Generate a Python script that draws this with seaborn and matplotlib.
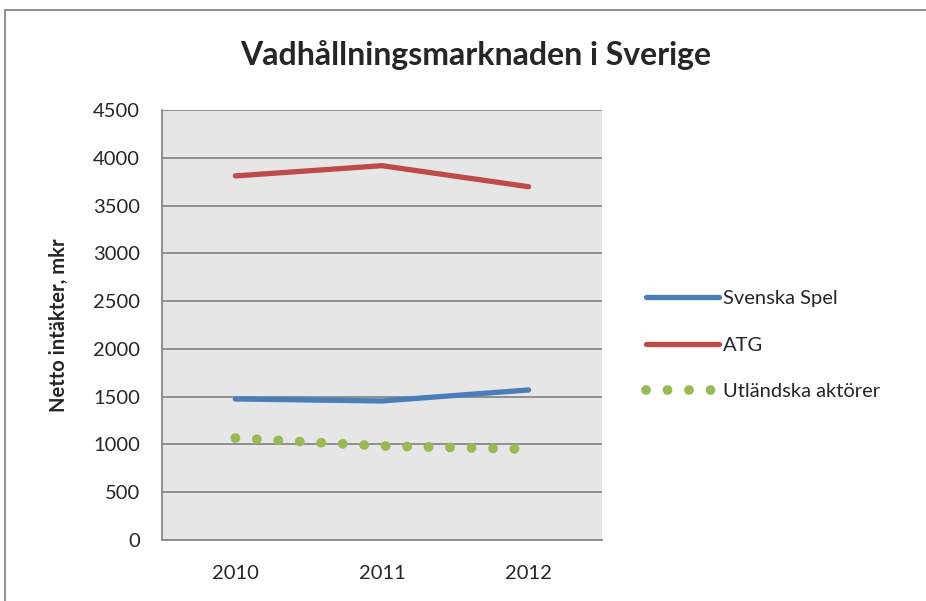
import matplotlib
matplotlib.use("Agg")
import matplotlib.pyplot as plt
import seaborn as sns
import pandas as pd
from matplotlib.patches import Rectangle

years = ["2010", "2011", "2012"]
svenska_spel = [1476, 1455, 1570]
atg = [3810, 3917, 3697]
utlandska = [1067, 984, 950]

yticks = [0, 500, 1000, 1500, 2000, 2500, 3000, 3500, 4000, 4500]

COLORS = {
    "Svenska Spel": "#4A7EBB",
    "ATG": "#BE4B48",
    "Utländska aktörer": "#98B954",
}

sns.set_style("white")
plt.rcParams["font.family"] = ["Lato", "DejaVu Sans"]

fig = plt.figure(figsize=(9.26, 6.01), dpi=100)
ax = fig.add_axes([0.175, 0.1015, 0.475, 0.7155])
ax.set_facecolor("#E6E6E6")

df = pd.DataFrame({"year": years, "Svenska Spel": svenska_spel,
                   "ATG": atg, "Utländska aktörer": utlandska})

sns.lineplot(data=df, x="year", y="Svenska Spel", ax=ax, color=COLORS["Svenska Spel"],
             linewidth=3.8, solid_capstyle="round", label="Svenska Spel")
sns.lineplot(data=df, x="year", y="ATG", ax=ax, color=COLORS["ATG"],
             linewidth=3.8, solid_capstyle="round", label="ATG")
sns.lineplot(data=df, x="year", y="Utländska aktörer", ax=ax, color=COLORS["Utländska aktörer"],
             linewidth=7, linestyle=(0, (0.01, 2.2)), dash_capstyle="round",
             label="Utländska aktörer")

ax.set_xlim(-0.5, 2.5)
ax.set_ylim(0, 4500)
ax.set_yticks(yticks)
ax.yaxis.grid(True, color="#888888", linewidth=1.3)
ax.set_axisbelow(True)
for side in ["top", "right"]:
    ax.spines[side].set_visible(False)
for side in ["left", "bottom"]:
    ax.spines[side].set_color("#888888")
    ax.spines[side].set_linewidth(1.3)
ax.tick_params(axis="both", labelsize=14.5, length=0, pad=16)
ax.tick_params(axis="x", pad=18)
ax.set_xlabel("")
ax.set_ylabel("Netto intäkter, mkr", fontsize=14.5, fontweight="bold", labelpad=17)

fig.text(0.514, 0.908, "Vadhållningsmarknaden i Sverige", ha="center", va="center",
         fontsize=23, fontweight="bold")

ax.legend(loc="center left", bbox_to_anchor=(1.06, 0.453), frameon=False,
          fontsize=14.5, handlelength=3.6, handletextpad=0.2, labelspacing=1.45)

# outer chart frame
fig.patches.append(Rectangle((5 / 926, -0.1), 1.2, 1.1 - 10 / 601, transform=fig.transFigure,
                             fill=False, edgecolor="#888888", linewidth=1.3))

fig.savefig("out.png", dpi=100)
